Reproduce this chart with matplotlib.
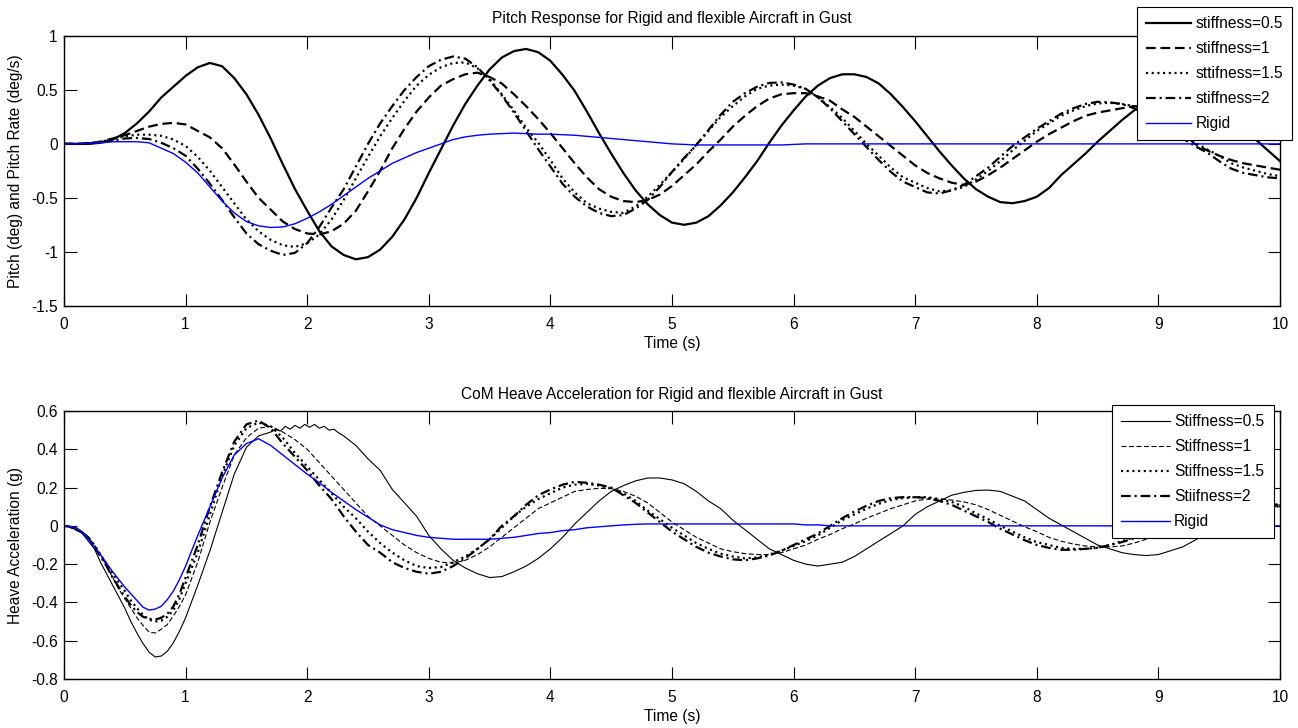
import matplotlib
matplotlib.use("Agg")
import matplotlib.pyplot as plt
import numpy as np

plt.rcParams['font.family'] = ['Liberation Sans', 'DejaVu Sans']
plt.rcParams['axes.unicode_minus'] = False
plt.rcParams['lines.scale_dashes'] = False

# ---------------- data ----------------
time_s = np.round(np.linspace(0, 10, 101), 2)

pitch_k05 = [0, 0, 0, 0.01, 0.04, 0.10, 0.19, 0.30, 0.43, 0.53,
             0.63, 0.71, 0.75, 0.72, 0.61, 0.46, 0.27, 0.05, -0.19, -0.42,
             -0.62, -0.81, -0.95, -1.03, -1.07, -1.05, -0.98, -0.86, -0.70, -0.50,
             -0.27, -0.05, 0.17, 0.37, 0.54, 0.69, 0.80, 0.86, 0.88, 0.85,
             0.77, 0.64, 0.49, 0.30, 0.10, -0.09, -0.27, -0.43, -0.56, -0.66,
             -0.73, -0.75, -0.73, -0.67, -0.57, -0.45, -0.31, -0.16, 0.01, 0.17,
             0.31, 0.44, 0.54, 0.61, 0.645, 0.645, 0.62, 0.56, 0.46, 0.34,
             0.21, 0.07, -0.07, -0.20, -0.32, -0.42, -0.49, -0.54, -0.55, -0.53,
             -0.49, -0.41, -0.29, -0.19, -0.09, 0.02, 0.12, 0.22, 0.31, 0.38,
             0.43, 0.45, 0.45, 0.43, 0.39, 0.32, 0.24, 0.15, 0.04, -0.06,
             -0.16]
pitch_k1 = [0, 0, 0.005, 0.02, 0.05, 0.08, 0.12, 0.16, 0.185, 0.195,
            0.18, 0.12, 0.06, -0.04, -0.19, -0.35, -0.50, -0.61, -0.72, -0.79,
            -0.83, -0.84, -0.81, -0.74, -0.62, -0.44, -0.25, -0.04, 0.14, 0.30,
            0.43, 0.54, 0.60, 0.645, 0.66, 0.62, 0.56, 0.46, 0.35, 0.23,
            0.10, -0.04, -0.18, -0.31, -0.42, -0.49, -0.53, -0.54, -0.52, -0.47,
            -0.39, -0.29, -0.19, -0.07, 0.04, 0.16, 0.26, 0.35, 0.42, 0.46,
            0.47, 0.47, 0.44, 0.40, 0.32, 0.25, 0.16, 0.07, -0.02, -0.11,
            -0.20, -0.27, -0.32, -0.36, -0.38, -0.35, -0.29, -0.22, -0.14, -0.06,
            0.02, 0.09, 0.15, 0.21, 0.26, 0.29, 0.31, 0.33, 0.35, 0.34,
            0.30, 0.22, 0.11, 0.0, -0.06, -0.11, -0.15, -0.18, -0.20, -0.22,
            -0.24]
pitch_k15 = [0, 0, 0.005, 0.02, 0.045, 0.07, 0.085, 0.085, 0.075, 0.04,
             -0.02, -0.12, -0.25, -0.40, -0.55, -0.70, -0.81, -0.89, -0.94, -0.955,
             -0.92, -0.84, -0.70, -0.52, -0.32, -0.12, 0.07, 0.24, 0.40, 0.54,
             0.64, 0.71, 0.75, 0.755, 0.70, 0.60, 0.46, 0.31, 0.15, 0.01,
             -0.15, -0.32, -0.45, -0.55, -0.60, -0.63, -0.64, -0.58, -0.49, -0.38,
             -0.26, -0.14, -0.01, 0.12, 0.25, 0.35, 0.44, 0.51, 0.54, 0.55,
             0.54, 0.51, 0.43, 0.34, 0.24, 0.12, 0.0, -0.11, -0.22, -0.31,
             -0.36, -0.41, -0.44, -0.43, -0.40, -0.33, -0.25, -0.16, -0.06, 0.03,
             0.12, 0.19, 0.26, 0.31, 0.35, 0.375, 0.38, 0.37, 0.35, 0.30,
             0.24, 0.17, 0.09, 0.01, -0.05, -0.11, -0.18, -0.22, -0.25, -0.28,
             -0.30]
pitch_k2 = [0, 0, 0.005, 0.01, 0.03, 0.05, 0.055, 0.045, 0.01, -0.04,
            -0.11, -0.23, -0.37, -0.52, -0.68, -0.83, -0.93, -0.99, -1.03, -1.01,
            -0.92, -0.77, -0.59, -0.42, -0.21, 0.0, 0.19, 0.35, 0.50, 0.62,
            0.72, 0.78, 0.81, 0.79, 0.71, 0.59, 0.45, 0.29, 0.12, -0.05,
            -0.21, -0.37, -0.49, -0.58, -0.64, -0.67, -0.66, -0.60, -0.52, -0.40,
            -0.26, -0.13, -0.01, 0.13, 0.27, 0.39, 0.47, 0.53, 0.565, 0.57,
            0.55, 0.51, 0.43, 0.33, 0.21, 0.09, -0.03, -0.15, -0.26, -0.35,
            -0.40, -0.45, -0.46, -0.43, -0.38, -0.30, -0.22, -0.12, -0.02, 0.06,
            0.14, 0.21, 0.28, 0.33, 0.37, 0.39, 0.385, 0.37, 0.33, 0.27,
            0.20, 0.12, 0.05, -0.02, -0.08, -0.16, -0.23, -0.27, -0.29, -0.31,
            -0.32]
pitch_rigid = [0, 0, 0.005, 0.01, 0.02, 0.02, 0.02, 0.01, -0.04, -0.09,
               -0.17, -0.27, -0.40, -0.53, -0.64, -0.72, -0.76, -0.775, -0.77, -0.74,
               -0.69, -0.63, -0.56, -0.48, -0.40, -0.32, -0.25, -0.18, -0.13, -0.08,
               -0.04, 0.0, 0.04, 0.065, 0.08, 0.09, 0.095, 0.10, 0.095, 0.09,
               0.09, 0.085, 0.08, 0.07, 0.06, 0.05, 0.04, 0.03, 0.02, 0.01,
               0.0, -0.005, -0.01, -0.01, -0.01, -0.01, -0.01, -0.01, -0.01, -0.01,
               -0.005, 0, 0, 0, 0, 0, 0, 0, 0, 0,
               0, 0, 0, 0, 0, 0, 0, 0, 0, 0,
               0, 0, 0, 0, 0, 0, 0, 0, 0, 0,
               0, 0, 0, 0, 0, 0, 0, 0, 0, 0,
               0]

# heave: 0..0.95 every 0.05 s, then 1.0..10 every 0.1 s
heave_time = np.round(np.concatenate([np.arange(0, 0.99, 0.05),
                                      np.arange(1.0, 10.01, 0.1)]), 2)
heave_time_k05 = np.round(np.concatenate([np.arange(0, 0.99, 0.05),
                                          np.arange(1.0, 1.75, 0.1),
                                          np.arange(1.74, 2.31, 0.04),
                                          np.arange(2.4, 10.01, 0.1)]), 2)
heave_k05 = [0, -0.005, -0.02, -0.04, -0.08, -0.12, -0.19, -0.25, -0.31, -0.37,
             -0.43, -0.50, -0.56, -0.615, -0.66, -0.685, -0.68, -0.655, -0.61, -0.55,
             -0.48, -0.31, -0.13, 0.07, 0.27, 0.41, 0.47, 0.49,
             0.505, 0.495, 0.52, 0.505, 0.525, 0.51, 0.53, 0.515, 0.53, 0.51,
             0.52, 0.50, 0.505, 0.485, 0.47,
             0.42, 0.35, 0.29, 0.19, 0.12, 0.05, -0.05, -0.12, -0.18, -0.22,
             -0.25, -0.27, -0.265, -0.24, -0.21, -0.17, -0.12, -0.06, 0.01, 0.07,
             0.13, 0.18, 0.21, 0.235, 0.25, 0.25, 0.24, 0.22, 0.18, 0.13,
             0.09, 0.03, -0.02, -0.07, -0.12, -0.15, -0.18, -0.20, -0.21, -0.20,
             -0.19, -0.16, -0.12, -0.08, -0.04, 0.0, 0.06, 0.10, 0.13, 0.16,
             0.175, 0.185, 0.187, 0.18, 0.155, 0.13, 0.085, 0.04, 0.005, -0.03,
             -0.065, -0.10, -0.12, -0.14, -0.15, -0.155, -0.15, -0.13, -0.11, -0.075,
             -0.04, 0.0, 0.03, 0.06, 0.085, 0.10, 0.11]
heave_k1 = [0, -0.005, -0.02, -0.035, -0.06, -0.10, -0.15, -0.21, -0.27, -0.33,
            -0.38, -0.43, -0.48, -0.52, -0.555, -0.56, -0.54, -0.515, -0.47, -0.42,
            -0.36, -0.19, 0.02, 0.20, 0.37, 0.46, 0.51, 0.52, 0.49, 0.45,
            0.40, 0.33, 0.26, 0.19, 0.12, 0.05, 0.0, -0.05, -0.10, -0.14,
            -0.17, -0.19, -0.195, -0.18, -0.15, -0.11, -0.06, -0.01, 0.04, 0.09,
            0.12, 0.15, 0.18, 0.19, 0.196, 0.195, 0.18, 0.155, 0.12, 0.07,
            0.02, -0.02, -0.06, -0.09, -0.12, -0.135, -0.145, -0.15, -0.15, -0.14,
            -0.12, -0.10, -0.07, -0.045, -0.015, 0.01, 0.04, 0.065, 0.09, 0.11,
            0.13, 0.14, 0.14, 0.135, 0.125, 0.11, 0.085, 0.055, 0.025, -0.005,
            -0.03, -0.06, -0.08, -0.095, -0.105, -0.11, -0.11, -0.105, -0.09, -0.07,
            -0.045, -0.02, 0.005, 0.03, 0.05, 0.065, 0.08, 0.09, 0.095, 0.10,
            0.10]
heave_k15 = [0, -0.005, -0.02, -0.035, -0.06, -0.10, -0.15, -0.20, -0.25, -0.295,
             -0.34, -0.39, -0.43, -0.465, -0.49, -0.50, -0.495, -0.475, -0.44, -0.38,
             -0.30, -0.14, 0.06, 0.26, 0.42, 0.51, 0.54, 0.52, 0.46, 0.38,
             0.31, 0.24, 0.17, 0.10, 0.04, -0.03, -0.09, -0.14, -0.18, -0.21,
             -0.22, -0.215, -0.19, -0.16, -0.12, -0.07, -0.01, 0.05, 0.10, 0.14,
             0.17, 0.20, 0.215, 0.22, 0.21, 0.195, 0.17, 0.13, 0.08, 0.035,
             -0.01, -0.05, -0.09, -0.12, -0.145, -0.16, -0.17, -0.165, -0.15, -0.13,
             -0.105, -0.08, -0.05, -0.01, 0.03, 0.06, 0.09, 0.115, 0.135, 0.145,
             0.15, 0.15, 0.14, 0.125, 0.10, 0.065, 0.035, 0.0, -0.03, -0.06,
             -0.085, -0.10, -0.115, -0.12, -0.12, -0.115, -0.10, -0.08, -0.06, -0.035,
             -0.01, 0.015, 0.04, 0.06, 0.08, 0.095, 0.105, 0.11, 0.11, 0.105,
             0.10]
heave_k2 = [0, -0.005, -0.02, -0.035, -0.06, -0.11, -0.16, -0.21, -0.27, -0.32,
            -0.37, -0.415, -0.45, -0.475, -0.485, -0.49, -0.48, -0.46, -0.42, -0.355,
            -0.27, -0.10, 0.10, 0.28, 0.44, 0.53, 0.55, 0.51, 0.43, 0.36,
            0.29, 0.21, 0.14, 0.05, -0.03, -0.10, -0.14, -0.19, -0.22, -0.24,
            -0.25, -0.24, -0.21, -0.17, -0.12, -0.07, 0.0, 0.05, 0.11, 0.16,
            0.19, 0.215, 0.23, 0.225, 0.215, 0.20, 0.16, 0.12, 0.07, 0.02,
            -0.03, -0.07, -0.11, -0.14, -0.16, -0.175, -0.18, -0.17, -0.155, -0.13,
            -0.10, -0.07, -0.04, 0.0, 0.04, 0.075, 0.105, 0.13, 0.145, 0.15,
            0.15, 0.145, 0.13, 0.11, 0.08, 0.05, 0.02, -0.015, -0.045, -0.075,
            -0.10, -0.115, -0.125, -0.125, -0.12, -0.115, -0.10, -0.085, -0.065, -0.04,
            -0.01, 0.02, 0.045, 0.07, 0.09, 0.105, 0.115, 0.12, 0.12, 0.115,
            0.11]
heave_rigid = [0, -0.003, -0.01, -0.03, -0.07, -0.11, -0.15, -0.195, -0.24, -0.28,
               -0.32, -0.355, -0.39, -0.425, -0.44, -0.435, -0.42, -0.385, -0.34, -0.28,
               -0.21, -0.05, 0.10, 0.25, 0.37, 0.43, 0.455, 0.42, 0.37, 0.32,
               0.27, 0.225, 0.175, 0.13, 0.085, 0.045, 0.005, -0.02, -0.035, -0.05,
               -0.06, -0.065, -0.07, -0.07, -0.07, -0.07, -0.065, -0.06, -0.05, -0.04,
               -0.035, -0.025, -0.02, -0.01, -0.005, 0.0, 0.005, 0.008, 0.01, 0.01,
               0.01, 0.01, 0.01, 0.01, 0.01, 0.01, 0.01, 0.01, 0.01, 0.01,
               0.01, 0.005, 0.005, 0.0, 0, 0, 0, 0, 0, 0,
               0, 0, 0, 0, 0, 0, 0, 0, 0, 0,
               0, 0, 0, 0, 0, 0, 0, 0, 0, 0,
               0, 0, 0, 0, 0, 0, 0, 0, 0, 0,
               0]

pitch_labels = ['stiffness=0.5', 'stiffness=1', 'sttifness=1.5', 'stiffness=2', 'Rigid']
heave_labels = ['Stiffness=0.5', 'Stiffness=1', 'Stiffness=1.5', 'Stiifness=2', 'Rigid']

x_ticks = [0, 1, 2, 3, 4, 5, 6, 7, 8, 9, 10]
x_ticklabels = ['0', '1', '2', '3', '4', '5', '6', '7', '8', '9', '10']
pitch_yticks = [-1.5, -1, -0.5, 0, 0.5, 1]
pitch_yticklabels = ['-1.5', '-1', '-0.5', '0', '0.5', '1']
heave_yticks = [-0.8, -0.6, -0.4, -0.2, 0, 0.2, 0.4, 0.6]
heave_yticklabels = ['-0.8', '-0.6', '-0.4', '-0.2', '0', '0.2', '0.4', '0.6']


def fit(t, y):
    n = min(len(t), len(y))
    return t[:n], y[:n]


# ---------------- figure ----------------
W, H = 1298, 728
fig = plt.figure(figsize=(W / 100, H / 100), dpi=100)
FS = 11.2

ax1 = fig.add_axes([64 / W, 1 - 305.7 / H, 1216 / W, 269.7 / H])
ax2 = fig.add_axes([64 / W, 1 - 679 / H, 1216 / W, 268 / H])

DASH = (0, (7, 3.4))
DOT = (0, (1.5, 2.6))
DASHDOT = (0, (7, 2.8, 1.5, 2.8))
THIN_DASH = (0, (3.6, 1.8))

lw_thick = 1.6
ax1.plot(*fit(time_s, pitch_k05), color='black', lw=lw_thick, ls='-', label=pitch_labels[0])
ax1.plot(*fit(time_s, pitch_k1), color='black', lw=lw_thick, ls=DASH, label=pitch_labels[1])
ax1.plot(*fit(time_s, pitch_k15), color='black', lw=lw_thick, ls=DOT, label=pitch_labels[2])
ax1.plot(*fit(time_s, pitch_k2), color='black', lw=lw_thick, ls=DASHDOT, label=pitch_labels[3])
ax1.plot(*fit(time_s, pitch_rigid), color='blue', lw=1.0, ls='-', label=pitch_labels[4])

ax2.plot(*fit(heave_time_k05, heave_k05), color='black', lw=0.8, ls='-', label=heave_labels[0])
ax2.plot(*fit(heave_time, heave_k1), color='black', lw=0.8, ls=THIN_DASH, label=heave_labels[1])
ax2.plot(*fit(heave_time, heave_k15), color='black', lw=lw_thick, ls=DOT, label=heave_labels[2])
ax2.plot(*fit(heave_time, heave_k2), color='black', lw=lw_thick, ls=DASHDOT, label=heave_labels[3])
ax2.plot(*fit(heave_time, heave_rigid), color='blue', lw=1.0, ls='-', label=heave_labels[4])

for ax, yt, ytl, ylim in ((ax1, pitch_yticks, pitch_yticklabels, (-1.5, 1)),
                          (ax2, heave_yticks, heave_yticklabels, (-0.8, 0.6))):
    ax.set_xlim(0, 10)
    ax.set_ylim(*ylim)
    ax.set_xticks(x_ticks)
    ax.set_xticklabels(x_ticklabels)
    ax.set_yticks(yt)
    ax.set_yticklabels(ytl)
    ax.tick_params(direction='in', length=9, width=0.8, top=True, right=True,
                   labelsize=FS, colors='black')
    ax.tick_params(axis='x', pad=8)
    ax.tick_params(axis='y', pad=4.5)
    for s in ax.spines.values():
        s.set_linewidth(1.0)
        s.set_color('black')
    ax.set_xlabel('Time (s)', fontsize=FS, labelpad=3)

ax1.set_title('Pitch Response for Rigid and flexible Aircraft in Gust', fontsize=FS, pad=9)
ax2.set_title('CoM Heave Acceleration for Rigid and flexible Aircraft in Gust', fontsize=FS, pad=9)
ax1.set_ylabel('Pitch (deg) and Pitch Rate (deg/s)', fontsize=FS, labelpad=6)
ax2.set_ylabel('Heave Acceleration (g)', fontsize=FS, labelpad=6)

leg_kw = dict(fontsize=FS, frameon=True, fancybox=False, shadow=False, framealpha=1,
              edgecolor='black', borderaxespad=0, handletextpad=0.3,
              labelspacing=0.64, borderpad=0.6, loc='upper left',
              bbox_transform=fig.transFigure)
leg1 = ax1.legend(bbox_to_anchor=(1137 / W, 1 - 7 / H), handlelength=2.85, **leg_kw)
leg2 = ax2.legend(bbox_to_anchor=(1112 / W, 1 - 405 / H), handlelength=3.1, **leg_kw)
for lg in (leg1, leg2):
    lg.get_frame().set_linewidth(0.8)

fig.savefig('out.png', dpi=100, facecolor='white')
